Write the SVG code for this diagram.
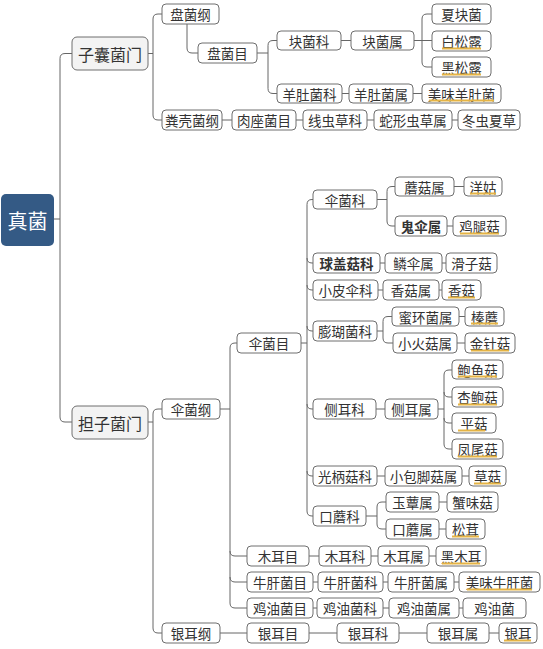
<svg xmlns="http://www.w3.org/2000/svg" width="543" height="649" viewBox="0 0 543 649">
<style>
.b{fill:#fff;stroke:#6e6e6e;stroke-width:1}
.p{fill:#f3f3f3;stroke:#6e6e6e;stroke-width:1}
.t{font-family:"Noto Sans CJK SC","Noto Sans",sans-serif;font-size:13.5px;fill:#333;text-anchor:middle;dominant-baseline:central}
.tp{font-family:"Noto Sans CJK SC","Noto Sans",sans-serif;font-size:16px;fill:#333;text-anchor:middle;dominant-baseline:central}
.bd{font-weight:bold}
.u{stroke:#e5b445;stroke-width:2;fill:none}
.c{fill:none;stroke:#666;stroke-width:1}
</style>
<rect width="543" height="649" fill="#fff"/>
<g id="connectors" class="c">
<path d="M54,219H60M72,53.5H65Q60,53.5 60,58.5V417Q60,422 65,422H72"/>
<path d="M148,53.5H153M162,14H158Q153,14 153,19V115Q153,120 158,120H162"/>
<path d="M187,24V48Q187,53 192,53H198"/>
<path d="M257,53H268M277,40.5H273Q268,40.5 268,45.5V88.5Q268,93.5 273,93.5H277"/>
<path d="M341,40.5H351M414,40.5H432M432,14H427Q422,14 422,19V62Q422,67 427,67H432"/>
<path d="M342,93.5H349M413,93.5H422"/>
<path d="M222,120H232M296,120H303M367,120H374M452,120H458"/>
<path d="M148,422H153M162,409H158Q153,409 153,414V628Q153,633 158,633H162"/>
<path d="M220,409H230M237,343H235Q230,343 230,348V603Q230,608 235,608H247M230,551Q230,556 235,556H247M230,577Q230,582 235,582H247"/>
<path d="M301,343H307M313,199.5H312Q307,199.5 307,204.5V511Q307,516 312,516H313M307,258Q307,263 312,263H313M307,285Q307,290 312,290H313M307,326Q307,331 312,331H313M307,404Q307,409 312,409H313M307,471Q307,476 312,476H313"/>
<path d="M377,199.5H387M395,186.5H392Q387,186.5 387,191.5V221Q387,226 392,226H395M454,186.5H464M447,226H453"/>
<path d="M380,263H385M442,263H446M378,290H383M439,290H442"/>
<path d="M377,331H383M392,316.5H388Q383,316.5 383,321.5V338Q383,343 388,343H393M459,316.5H465M457,343H465"/>
<path d="M376,409H385M438,409H444M452,370H449Q444,370 444,375V444Q444,449 449,449H452M444,392Q444,397 449,397H452M444,418Q444,423 449,423H452"/>
<path d="M377,476H385M462,476H469"/>
<path d="M366,516H377M386,502H382Q377,502 377,507V524Q377,529 382,529H386M439,502H447M439,529H446"/>
<path d="M309,556H319M371,556H378M429,556H436"/>
<path d="M313,582H318M383,582H388M454,582H459"/>
<path d="M313,608H317M383,608H389M459,608H463"/>
<path d="M220,633H247M309,633H337M399,633H427M489,633H499"/>
</g>
<g id="root"><rect x="1" y="194" width="53" height="52" rx="5" fill="#345a85"/><text x="27.5" y="220" font-family="Noto Sans CJK SC,sans-serif" font-size="20" fill="#fff" text-anchor="middle" dominant-baseline="central">真菌</text></g>
<g id="ascomycota"><rect class="p" x="72" y="37" width="76" height="33" rx="5"/><text class="tp" x="110" y="53.5">子囊菌门</text></g>
<g id="basidiomycota"><rect class="p" x="72" y="406" width="76" height="33" rx="5"/><text class="tp" x="110" y="422.5">担子菌门</text></g>
<g id="pezizomycetes"><rect class="b" x="162" y="4" width="57" height="20" rx="4"/><text class="t" x="190.5" y="14">盘菌纲</text></g>
<g id="pezizales"><rect class="b" x="198" y="43" width="59" height="20" rx="4"/><text class="t" x="227.5" y="53">盘菌目</text></g>
<g id="tuberaceae"><rect class="b" x="277" y="31" width="64" height="19" rx="4"/><text class="t" x="309" y="40.5">块菌科</text></g>
<g id="tuber"><rect class="b" x="351" y="31" width="63" height="19" rx="4"/><text class="t" x="382.5" y="40.5">块菌属</text></g>
<g id="xiakuaijun"><rect class="b" x="432" y="4" width="59" height="20" rx="4"/><text class="t" x="461.5" y="14">夏块菌</text></g>
<g id="baisonglu"><rect class="b" x="432" y="31" width="59" height="20" rx="4"/><text class="t" x="461.5" y="41">白松露</text><line class="u" x1="442" y1="48.5" x2="481" y2="48.5"/></g>
<g id="heisonglu"><rect class="b" x="432" y="57" width="59" height="20" rx="4"/><text class="t" x="461.5" y="67">黑松露</text><line class="u" x1="442" y1="74.5" x2="481" y2="74.5"/></g>
<g id="morchellaceae"><rect class="b" x="277" y="84" width="65" height="19" rx="4"/><text class="t" x="309.5" y="93.5">羊肚菌科</text></g>
<g id="morchella"><rect class="b" x="349" y="84" width="64" height="19" rx="4"/><text class="t" x="381" y="93.5">羊肚菌属</text></g>
<g id="meiweiyangdujun"><rect class="b" x="422" y="84" width="79" height="19" rx="4"/><text class="t" x="461.5" y="93.5">美味羊肚菌</text><line class="u" x1="429" y1="100.5" x2="494" y2="100.5"/></g>
<g id="sordariomycetes"><rect class="b" x="162" y="110" width="60" height="20" rx="4"/><text class="t" x="192" y="120">粪壳菌纲</text></g>
<g id="hypocreales"><rect class="b" x="232" y="110" width="64" height="20" rx="4"/><text class="t" x="264" y="120">肉座菌目</text></g>
<g id="ophiocordycipitaceae"><rect class="b" x="303" y="110" width="64" height="20" rx="4"/><text class="t" x="335" y="120">线虫草科</text></g>
<g id="ophiocordyceps"><rect class="b" x="374" y="110" width="78" height="20" rx="4"/><text class="t" x="413" y="120">蛇形虫草属</text></g>
<g id="dongchongxiacao"><rect class="b" x="458" y="110" width="62" height="20" rx="4"/><text class="t" x="489" y="120">冬虫夏草</text></g>
<g id="agaricomycetes"><rect class="b" x="162" y="399" width="58" height="20" rx="4"/><text class="t" x="191" y="409">伞菌纲</text></g>
<g id="agaricales"><rect class="b" x="237" y="333" width="64" height="20" rx="4"/><text class="t" x="269" y="343">伞菌目</text></g>
<g id="agaricaceae"><rect class="b" x="313" y="190" width="64" height="19" rx="4"/><text class="t" x="345" y="199.5">伞菌科</text></g>
<g id="agaricus"><rect class="b" x="395" y="177" width="59" height="19" rx="4"/><text class="t" x="424.5" y="186.5">蘑菇属</text></g>
<g id="yanggu"><rect class="b" x="464" y="177" width="38" height="19" rx="4"/><text class="t" x="483" y="186.5">洋姑</text><line class="u" x1="470" y1="193.5" x2="496" y2="193.5"/></g>
<g id="coprinus"><rect class="b" x="395" y="216" width="52" height="20" rx="4"/><text class="t bd" x="421" y="226">鬼伞属</text></g>
<g id="jituigu"><rect class="b" x="453" y="216" width="53" height="20" rx="4"/><text class="t" x="479.5" y="226">鸡腿菇</text><line class="u" x1="460" y1="233.5" x2="499" y2="233.5"/></g>
<g id="strophariaceae"><rect class="b" x="313" y="253" width="67" height="20" rx="4"/><text class="t bd" x="346.5" y="263">球盖菇科</text></g>
<g id="pholiota"><rect class="b" x="385" y="253" width="57" height="20" rx="4"/><text class="t" x="413.5" y="263">鳞伞属</text></g>
<g id="huazigu"><rect class="b" x="446" y="253" width="51" height="20" rx="4"/><text class="t" x="471.5" y="263">滑子菇</text></g>
<g id="marasmiaceae"><rect class="b" x="313" y="280" width="65" height="20" rx="4"/><text class="t" x="345.5" y="290">小皮伞科</text></g>
<g id="lentinula"><rect class="b" x="383" y="280" width="56" height="20" rx="4"/><text class="t" x="411" y="290">香菇属</text></g>
<g id="xianggu"><rect class="b" x="442" y="280" width="39" height="20" rx="4"/><text class="t" x="461.5" y="290">香菇</text><line class="u" x1="448" y1="297.5" x2="475" y2="297.5"/></g>
<g id="physalacriaceae"><rect class="b" x="313" y="321" width="64" height="20" rx="4"/><text class="t" x="345" y="331">膨瑚菌科</text></g>
<g id="armillaria"><rect class="b" x="392" y="307" width="67" height="19" rx="4"/><text class="t" x="425.5" y="316.5">蜜环菌属</text></g>
<g id="zhenmo"><rect class="b" x="465" y="307" width="39" height="19" rx="4"/><text class="t" x="484.5" y="316.5">榛蘑</text><line class="u" x1="471" y1="323.5" x2="498" y2="323.5"/></g>
<g id="flammulina"><rect class="b" x="393" y="333" width="64" height="20" rx="4"/><text class="t" x="425" y="343">小火菇属</text></g>
<g id="jinzhengu"><rect class="b" x="465" y="333" width="50" height="20" rx="4"/><text class="t" x="490" y="343">金针菇</text><line class="u" x1="471" y1="350.5" x2="509" y2="350.5"/></g>
<g id="pleurotaceae"><rect class="b" x="313" y="399" width="63" height="20" rx="4"/><text class="t" x="344.5" y="409">侧耳科</text></g>
<g id="pleurotus"><rect class="b" x="385" y="399" width="53" height="20" rx="4"/><text class="t" x="411.5" y="409">侧耳属</text></g>
<g id="baoyugu"><rect class="b" x="452" y="360" width="51" height="19" rx="4"/><text class="t" x="477.5" y="369.5">鲍鱼菇</text><line class="u" x1="458" y1="376.5" x2="497" y2="376.5"/></g>
<g id="xingbaogu"><rect class="b" x="452" y="387" width="51" height="20" rx="4"/><text class="t" x="477.5" y="397">杏鲍菇</text><line class="u" x1="458" y1="404.5" x2="497" y2="404.5"/></g>
<g id="pinggu"><rect class="b" x="452" y="413" width="44" height="20" rx="4"/><text class="t" x="474" y="423">平菇</text><line class="u" x1="458" y1="430.5" x2="485" y2="430.5"/></g>
<g id="fengweigu"><rect class="b" x="452" y="439" width="51" height="20" rx="4"/><text class="t" x="477.5" y="449">凤尾菇</text><line class="u" x1="458" y1="456.5" x2="497" y2="456.5"/></g>
<g id="pluteaceae"><rect class="b" x="313" y="466" width="64" height="20" rx="4"/><text class="t" x="345" y="476">光柄菇科</text></g>
<g id="volvariella"><rect class="b" x="385" y="466" width="77" height="20" rx="4"/><text class="t" x="423.5" y="476">小包脚菇属</text></g>
<g id="caogu"><rect class="b" x="469" y="466" width="37" height="20" rx="4"/><text class="t" x="487.5" y="476">草菇</text><line class="u" x1="474" y1="483.5" x2="501" y2="483.5"/></g>
<g id="tricholomataceae"><rect class="b" x="313" y="506" width="53" height="20" rx="4"/><text class="t" x="339.5" y="516">口蘑科</text></g>
<g id="hypsizygus"><rect class="b" x="386" y="492" width="53" height="20" rx="4"/><text class="t" x="412.5" y="502">玉蕈属</text></g>
<g id="xieweigu"><rect class="b" x="447" y="492" width="51" height="20" rx="4"/><text class="t" x="472.5" y="502">蟹味菇</text></g>
<g id="tricholoma"><rect class="b" x="386" y="519" width="53" height="20" rx="4"/><text class="t" x="412.5" y="529">口蘑属</text></g>
<g id="songrong"><rect class="b" x="446" y="519" width="39" height="20" rx="4"/><text class="t" x="465.5" y="529">松茸</text><line class="u" x1="452" y1="536.5" x2="479" y2="536.5"/></g>
<g id="auriculariales"><rect class="b" x="247" y="546" width="62" height="20" rx="4"/><text class="t" x="278" y="556">木耳目</text></g>
<g id="auriculariaceae"><rect class="b" x="319" y="546" width="52" height="20" rx="4"/><text class="t" x="345" y="556">木耳科</text></g>
<g id="auricularia"><rect class="b" x="378" y="546" width="51" height="20" rx="4"/><text class="t" x="403.5" y="556">木耳属</text></g>
<g id="heimuer"><rect class="b" x="436" y="546" width="50" height="20" rx="4"/><text class="t" x="461" y="556">黑木耳</text><line class="u" x1="442" y1="563.5" x2="480" y2="563.5"/></g>
<g id="boletales"><rect class="b" x="247" y="572" width="66" height="20" rx="4"/><text class="t" x="280" y="582">牛肝菌目</text></g>
<g id="boletaceae"><rect class="b" x="318" y="572" width="65" height="20" rx="4"/><text class="t" x="350.5" y="582">牛肝菌科</text></g>
<g id="boletus"><rect class="b" x="388" y="572" width="66" height="20" rx="4"/><text class="t" x="421" y="582">牛肝菌属</text></g>
<g id="meiweiniuganjun"><rect class="b" x="459" y="572" width="81" height="20" rx="4"/><text class="t" x="499.5" y="582">美味牛肝菌</text><line class="u" x1="467" y1="589.5" x2="532" y2="589.5"/></g>
<g id="cantharellales"><rect class="b" x="247" y="598" width="66" height="20" rx="4"/><text class="t" x="280" y="608">鸡油菌目</text></g>
<g id="cantharellaceae"><rect class="b" x="317" y="598" width="66" height="20" rx="4"/><text class="t" x="350" y="608">鸡油菌科</text></g>
<g id="cantharellus"><rect class="b" x="389" y="598" width="70" height="20" rx="4"/><text class="t" x="424" y="608">鸡油菌属</text></g>
<g id="jiyoujun"><rect class="b" x="463" y="598" width="63" height="20" rx="4"/><text class="t" x="494.5" y="608">鸡油菌</text></g>
<g id="tremellomycetes"><rect class="b" x="162" y="623" width="58" height="20" rx="4"/><text class="t" x="191" y="633">银耳纲</text></g>
<g id="tremellales"><rect class="b" x="247" y="623" width="62" height="20" rx="4"/><text class="t" x="278" y="633">银耳目</text></g>
<g id="tremellaceae"><rect class="b" x="337" y="623" width="62" height="20" rx="4"/><text class="t" x="368" y="633">银耳科</text></g>
<g id="tremella"><rect class="b" x="427" y="623" width="62" height="20" rx="4"/><text class="t" x="458" y="633">银耳属</text></g>
<g id="yiner"><rect class="b" x="499" y="623" width="38" height="20" rx="4"/><text class="t" x="518" y="633">银耳</text><line class="u" x1="504" y1="640.5" x2="531" y2="640.5"/></g>
</svg>
